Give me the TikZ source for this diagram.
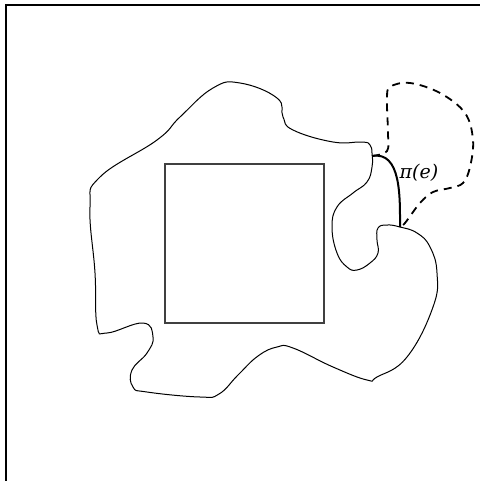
\documentclass[tikz,border=0pt]{standalone}
\usepackage{amsmath,amssymb}
\usepackage{xcolor}
\usepackage{fontspec}
\usepackage{tikz}
\usetikzlibrary{arrows.meta}
\newfontfamily\labelfont{DejaVu Serif}

\begin{document}
\begin{tikzpicture}[
    x=0.5pt, y=-0.5pt,
    frameline/.style={draw, line width=0.8pt},
    boxline/.style={draw=black!75, line width=0.55pt},
    blobline/.style={draw, line width=0.5pt},
    pathline/.style={draw, line width=1pt},
    loopline/.style={draw, line width=0.9pt, dash pattern=on 4pt off 3pt},
    every node/.style={font=\labelfont\itshape\fontsize{9.5}{11}\selectfont}
]
    \useasboundingbox (0,0) rectangle (480,481);
    % frame
    \draw[frameline] (480,5) -- (6,5) -- (6,481);
    % inner square
    \draw[boxline] (165,164) rectangle (324,323);
    % region
    \draw[blobline] plot[smooth cycle, tension=0.75] coordinates {
        (362,142) (333,142) (293,130) (283,117) (277,98) (240,83) (213,88)
        (180,117) (157,140) (100,177) (90,207) (95,273) (97,325) (107,333)
        (143,323) (153,337) (147,353) (132,370) (133,387) (147,392) (200,397)
        (219,394) (238,375) (258,356) (277,347) (293,348) (333,367) (367,380) (377,377)
        (407,357) (433,307) (437,273) (430,247) (417,233) (400,227) (387,225)
        (378,228) (377,240) (378,253) (370,263) (357,270) (347,267) (337,253)
        (332,227) (337,207) (353,193) (367,182) (372,167) (372,153) (370,145)};
    % end points of the path
    \coordinate (u) at (372,156);
    \coordinate (v) at (400,227);
    % the path pi(e)
    \draw[pathline] (u) to[out=10, in=90] (v);
    \node (lbl) at (419,173) {π(e)};
    % dashed detour
    \draw[loopline] plot[smooth, tension=0.6] coordinates {
        (u) (387,151) (388,133) (387,100) (390,87) (410,83) (440,93) (465,113)
        (473,140) (470,167) (463,183) (450,188) (433,192) (420,203) (405,223) (v)};
\end{tikzpicture}
\end{document}
